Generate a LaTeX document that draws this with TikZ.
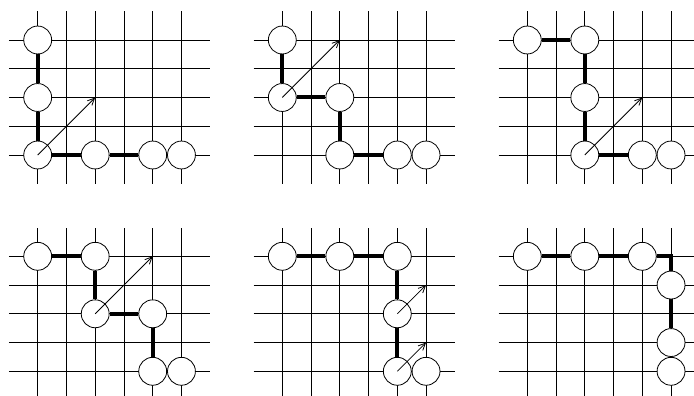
\documentclass[tikz,border=0pt]{standalone}
\usetikzlibrary{arrows.meta}
\tikzset{
  gridline/.style={line width=0.65pt, black},
  bead/.style={circle, draw, line width=0.8pt, fill=white, inner sep=0pt, minimum size=27.9pt},
  bond/.style={line width=4pt, black},
  arr/.style={line width=0.8pt, -{Straight Barb[length=7pt,width=6.5pt]}},
}
\newcommand{\lattice}{%
  \foreach \c in {0,...,5} \draw[gridline] (\c,-1) -- (\c,5);
  \foreach \r in {0,...,4} \draw[gridline] (-1,\r) -- (6,\r);
}
\begin{document}
\begin{tikzpicture}[x=1pt,y=-1pt]
\useasboundingbox (0,0) rectangle (694,396);
\clip (0,0) rectangle (694,396);
% Panel 1
\begin{scope}[shift={(37.7,155)}, x=28.75pt, y=28.75pt]
  \lattice
  \node[bead] (a1) at (0,4) {};
  \node[bead] (a2) at (0,2) {};
  \node[bead] (a3) at (0,0) {};
  \node[bead] (a4) at (2,0) {};
  \node[bead] (a5) at (4,0) {};
  \node[bead] (a6) at (5,0) {};
  \coordinate (ta) at (2,2);
  \draw[bond] (a1) -- (a2);
  \draw[bond] (a2) -- (a3);
  \draw[bond] (a3) -- (a4);
  \draw[bond] (a4) -- (a5);
  \draw[arr] (a3.center) -- (ta);
\end{scope}
% Panel 2
\begin{scope}[shift={(282.3,155)}, x=28.75pt, y=28.75pt]
  \lattice
  \node[bead] (b1) at (0,4) {};
  \node[bead] (b2) at (0,2) {};
  \node[bead] (b3) at (2,2) {};
  \node[bead] (b4) at (2,0) {};
  \node[bead] (b5) at (4,0) {};
  \node[bead] (b6) at (5,0) {};
  \coordinate (tb) at (2,4);
  \draw[bond] (b1) -- (b2);
  \draw[bond] (b2) -- (b3);
  \draw[bond] (b3) -- (b4);
  \draw[bond] (b4) -- (b5);
  \draw[arr] (b2.center) -- (tb);
\end{scope}
% Panel 3
\begin{scope}[shift={(527.3,155)}, x=28.75pt, y=28.75pt]
  \lattice
  \node[bead] (c1) at (0,4) {};
  \node[bead] (c2) at (2,4) {};
  \node[bead] (c3) at (2,2) {};
  \node[bead] (c4) at (2,0) {};
  \node[bead] (c5) at (4,0) {};
  \node[bead] (c6) at (5,0) {};
  \coordinate (tc) at (4,2);
  \draw[bond] (c1) -- (c2);
  \draw[bond] (c2) -- (c3);
  \draw[bond] (c3) -- (c4);
  \draw[bond] (c4) -- (c5);
  \draw[arr] (c4.center) -- (tc);
\end{scope}
% Panel 4
\begin{scope}[shift={(37.7,371.3)}, x=28.75pt, y=28.75pt]
  \lattice
  \node[bead] (d1) at (0,4) {};
  \node[bead] (d2) at (2,4) {};
  \node[bead] (d3) at (2,2) {};
  \node[bead] (d4) at (4,2) {};
  \node[bead] (d5) at (4,0) {};
  \node[bead] (d6) at (5,0) {};
  \coordinate (td) at (4,4);
  \draw[bond] (d1) -- (d2);
  \draw[bond] (d2) -- (d3);
  \draw[bond] (d3) -- (d4);
  \draw[bond] (d4) -- (d5);
  \draw[arr] (d3.center) -- (td);
\end{scope}
% Panel 5
\begin{scope}[shift={(282.3,371.3)}, x=28.75pt, y=28.75pt]
  \lattice
  \node[bead] (e1) at (0,4) {};
  \node[bead] (e2) at (2,4) {};
  \node[bead] (e3) at (4,4) {};
  \node[bead] (e4) at (4,2) {};
  \node[bead] (e5) at (4,0) {};
  \node[bead] (e6) at (5,0) {};
  \coordinate (te1) at (5,3);
  \coordinate (te2) at (5,1);
  \draw[bond] (e1) -- (e2);
  \draw[bond] (e2) -- (e3);
  \draw[bond] (e3) -- (e4);
  \draw[bond] (e4) -- (e5);
  \draw[arr] (e4.center) -- (te1);
  \draw[arr] (e5.center) -- (te2);
\end{scope}
% Panel 6
\begin{scope}[shift={(527.3,371.3)}, x=28.75pt, y=28.75pt]
  \lattice
  \node[bead] (f1) at (0,4) {};
  \node[bead] (f2) at (2,4) {};
  \node[bead] (f3) at (4,4) {};
  \node[bead] (f4) at (5,3) {};
  \node[bead] (f5) at (5,1) {};
  \node[bead] (f6) at (5,0) {};
  \draw[bond] (f1) -- (f2);
  \draw[bond] (f2) -- (f3);
  \draw[bond] (f3) -| (f4);
  \draw[bond] (f4) -- (f5);
\end{scope}
\end{tikzpicture}
\end{document}
